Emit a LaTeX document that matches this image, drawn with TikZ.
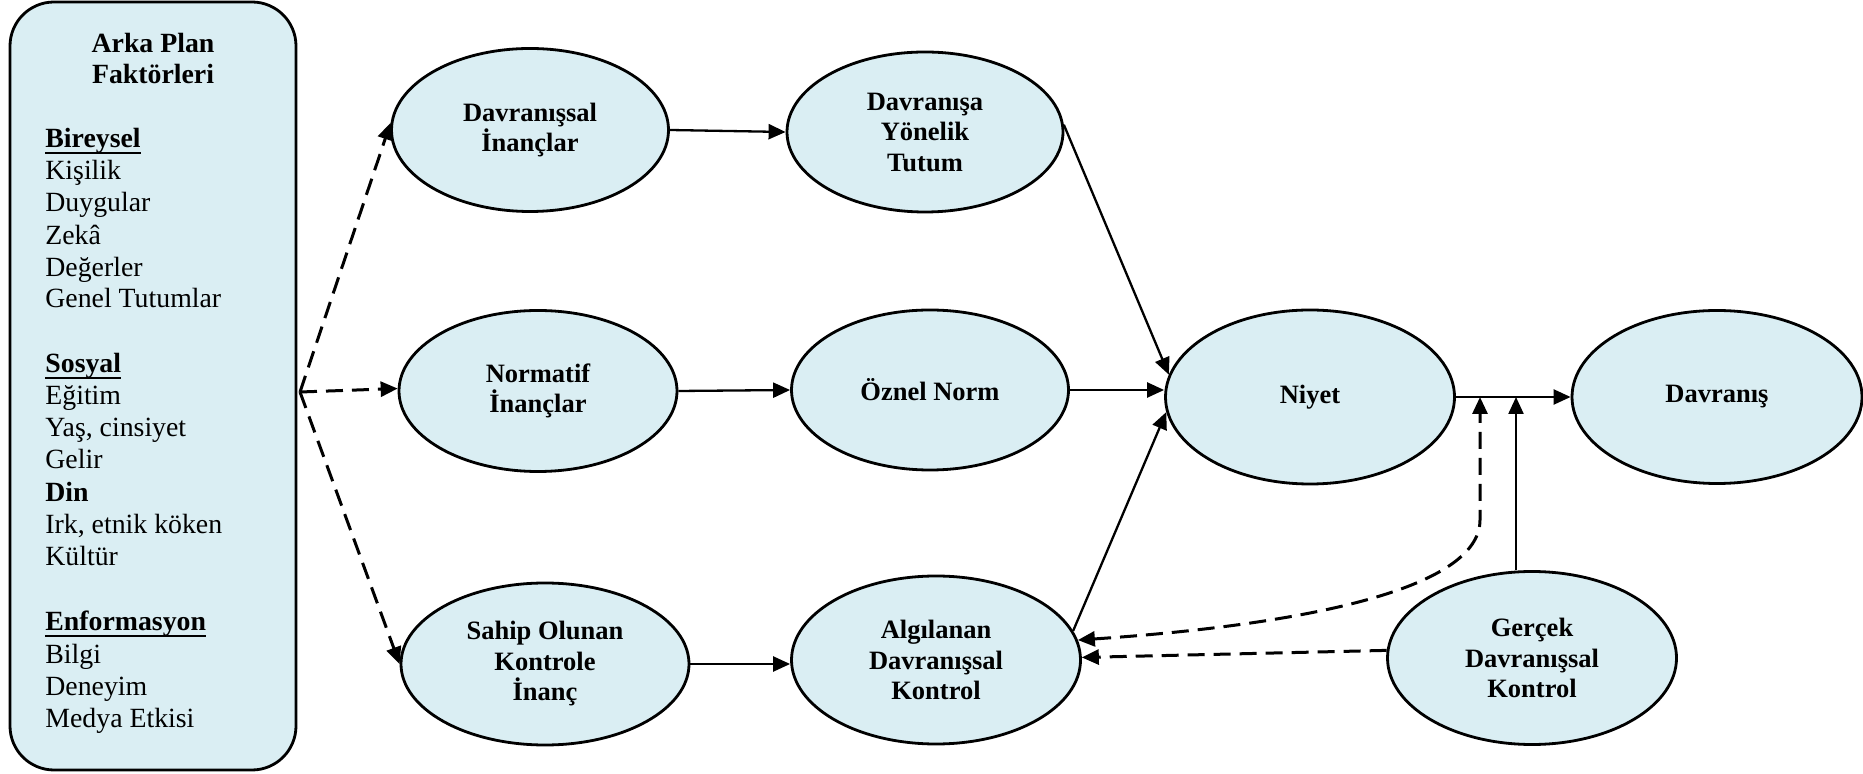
\documentclass[tikz,border=0pt]{standalone}
\usepackage{fontspec}
\setmainfont{Liberation Serif}
\usetikzlibrary{shapes.geometric,arrows.meta}
\definecolor{paleblue}{RGB}{218,238,243}
% bold text with a rule drawn just under its baseline
\newcommand{\ulbox}[1]{\setbox0=\hbox{#1}\rlap{\rule[-3pt]{\wd0}{0.8pt}}\box0}
\begin{document}
\begin{tikzpicture}[x=0.5pt,y=-0.5pt,
  factor/.style={ellipse,draw,line width=1.4pt,fill=paleblue,inner sep=0pt,
    align=center,font=\fontsize{13.25}{15.25}\selectfont\bfseries},
  listline/.style={anchor=base west,inner sep=0pt,
    font=\fontsize{13.9}{16.15}\selectfont},
  link/.style={line width=1.15pt,-{Triangle[length=8.5pt,width=7.5pt]}},
  dlink/.style={line width=1.5pt,dash pattern=on 8.5pt off 4.5pt,
    -{Triangle[length=8.5pt,width=7.5pt]}}]
\useasboundingbox (0,0) rectangle (1863,774);

% background factors panel
\node (panel) [draw,line width=1.4pt,fill=paleblue,rounded corners=22pt,
  minimum width=143pt,minimum height=384pt,inner sep=0pt] at (153,386) {};
\node (t1) [anchor=base,inner sep=0pt,font=\fontsize{13.9}{16.15}\selectfont\bfseries]
  at (153,53) {Arka Plan};
\node (t2) [anchor=base,inner sep=0pt,font=\fontsize{13.9}{16.15}\selectfont\bfseries]
  at (153,84) {Faktörleri};
\foreach \yy/\tx [count=\k] in {
  148/{\ulbox{\textbf{Bireysel}}}, 180/{Kişilik}, 212/{Duygular}, 245/{Zekâ},
  277/{Değerler}, 308/{Genel Tutumlar},
  373/{\ulbox{\textbf{Sosyal}}}, 405/{Eğitim}, 437/{Yaş, cinsiyet}, 469/{Gelir},
  502/{\textbf{Din}}, 534/{Irk, etnik köken}, 566/{Kültür},
  631/{\ulbox{\textbf{Enformasyon}}}, 663/{Bilgi}, 695/{Deneyim}, 727/{Medya Etkisi}}
  \node (lf\k) [listline] at (45,\yy) {\tx};

% belief, attitude and control ellipses
\node (bi)  [factor,minimum width=138.5pt,minimum height=81.5pt] at (530,130) {Davranışsal\\İnançlar};
\node (ni)  [factor,minimum width=139pt,minimum height=80.5pt] at (538,391) {Normatif\\İnançlar};
\node (si)  [factor,minimum width=144pt,minimum height=81pt] at (545,664) {Sahip Olunan\\Kontrole\\İnanç};
\node (tu)  [factor,minimum width=138pt,minimum height=80pt] at (925,132) {Davranışa\\Yönelik\\Tutum};
\node (on)  [factor,minimum width=138.5pt,minimum height=80pt] at (930,390) {Öznel Norm};
\node (ad)  [factor,minimum width=144.5pt,minimum height=84pt] at (936,660) {Algılanan\\Davranışsal\\Kontrol};
\node (niy) [factor,minimum width=144.5pt,minimum height=87pt] at (1310,397) {Niyet};
\node (dv)  [factor,minimum width=145pt,minimum height=86.5pt] at (1717,397) {Davranış};
\node (gd)  [factor,minimum width=144.5pt,minimum height=86.5pt] at (1532,658) {Gerçek\\Davranışsal\\Kontrol};

% fan-out point and junctions on the intention-behaviour link
\coordinate (src) at (300,392);
\coordinate (j1) at (1480,397);
\coordinate (j2) at (1516,397);

% dashed influences of the background factors
\draw[dlink] (src) -- (bi.177);
\draw[dlink] (src) -- (ni.179);
\draw[dlink] (src) -- (si.west);

% beliefs to their constructs
\draw[link] (bi.east) -- (tu.west);
\draw[link] (ni.east) -- (on.west);
\draw[link] (si.east) -- (ad.west |- si.east);

% constructs to intention
\draw[link] (tu.3) -- (niy.171);
\draw[link] (on.east) -- (on.east -| niy.west);
\draw[link] (ad.12) -- (niy.186);

% intention to behaviour, moderated by control
\draw[link] (niy.east) -- (dv.west);
\draw[link] (j2 |- gd.north) -- (j2);
\draw[line width=1.5pt,dash pattern=on 8.5pt off 4.5pt,
  {Triangle[length=8.5pt,width=7.5pt]}-{Triangle[length=8.5pt,width=7.5pt]}]
  (ad.8) .. controls (1300,625) and (1480,590) .. (1480,520) -- (j1);
\draw[dlink] (gd.177) -- (ad.1);
\end{tikzpicture}
\end{document}
